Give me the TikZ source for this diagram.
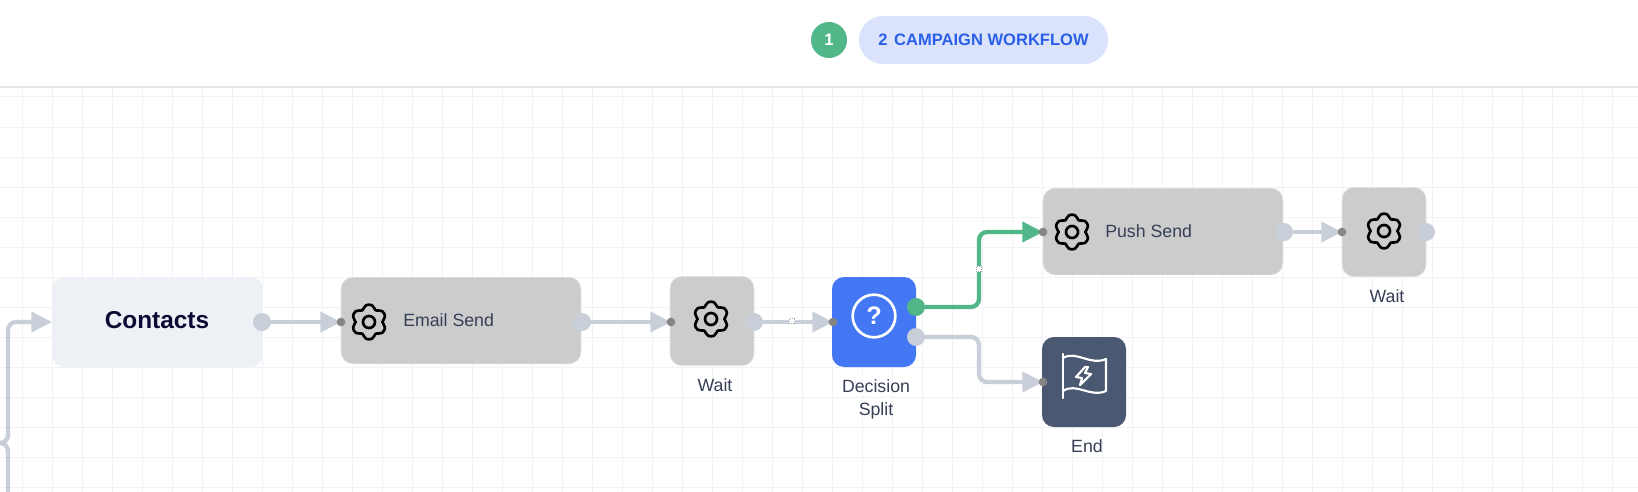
\documentclass[tikz,border=0pt]{standalone}
\usepackage{fontspec}
\setmainfont{Liberation Sans}
\usetikzlibrary{arrows.meta}
\pgfdeclarelayer{front}
\pgfsetlayers{main,front}
\definecolor{gridgray}{HTML}{F0F2F5}
\definecolor{headline}{HTML}{E4E6EA}
\definecolor{linkgray}{HTML}{C8CFD9}
\definecolor{linkgreen}{HTML}{52B788}
\definecolor{dotgray}{HTML}{858585}
\definecolor{boxgray}{HTML}{CCCCCC}
\definecolor{boxedge}{HTML}{E3E6EB}
\definecolor{contactbox}{HTML}{EDF0F4}
\definecolor{decisionblue}{HTML}{4477F4}
\definecolor{endslate}{HTML}{4B5872}
\definecolor{labelink}{HTML}{373F57}
\definecolor{pillblue}{HTML}{DAE3FB}
\definecolor{pillink}{HTML}{2A5FE8}
\definecolor{contactink}{HTML}{0A0A33}
\tikzset{
  task/.style={draw=boxedge, line width=0.5pt, fill=boxgray, rounded corners=9pt, minimum width=180pt, minimum height=65pt, inner sep=0pt},
  waitbox/.style={task, minimum width=63pt, minimum height=67pt},
  outport/.style={circle, fill=linkgray, minimum size=13.5pt, inner sep=0pt, outer sep=0pt},
  inport/.style={circle, fill=dotgray, minimum size=6.5pt, inner sep=0pt, outer sep=0pt},
  link/.style={line width=3.2pt, draw=linkgray, rounded corners=6pt, shorten >=-3.25pt, -{Triangle[length=15.5pt,width=15pt,fill=linkgray]}},
  yeslink/.style={link, draw=linkgreen, -{Triangle[length=15.5pt,width=15pt,fill=linkgreen]}},
  handle/.style={draw=gray!70, densely dotted, line width=0.4pt, fill=white, minimum size=4pt, inner sep=0pt},
  tasklabel/.style={font=\fontsize{13.3pt}{17pt}\selectfont, text=labelink, inner sep=0pt},
  gearline/.style={draw=black, line width=2pt, line join=round},
}
% zahnrad
\newcommand{\gear}[2]{
  \draw[gearline, shift={(#1,#2)}] plot[smooth cycle, samples at={0,10,...,350}, variable=\a]
    ({(15.8+2.0*cos(6*(\a-90))-0.4*cos(12*(\a-90)))*cos(\a)},{(15.8+2.0*cos(6*(\a-90))-0.4*cos(12*(\a-90)))*sin(\a)});
  \draw[gearline, shift={(#1,#2)}] (0,0) circle[radius=4.5pt];
}
\begin{document}
\begin{tikzpicture}[x=0.75pt, y=-0.75pt]
    \useasboundingbox (0,0) rectangle (1638,492);
    \fill[white] (0,0) rectangle (1638,492);
    % raster
    \foreach \gx in {22.5,52.5,...,1638} \draw[gridgray, line width=0.75pt] (\gx,87) -- (\gx,492);
    \foreach \gy in {97,127,...,492} \draw[gridgray, line width=0.75pt] (0,\gy) -- (1638,\gy);
    \draw[headline, line width=1.1pt] (0,87) -- (1638,87); % kopfzeile

    % kopf
    \node[circle, fill=linkgreen, minimum size=27pt, inner sep=0pt, text=white, font=\bfseries\fontsize{12.5pt}{14pt}\selectfont] (stepone) at (829,40) {1};
    \node[fill=pillblue, rounded corners=18pt, minimum width=186.75pt, minimum height=36pt, inner sep=0pt, text=pillink, font=\bfseries\fontsize{12.4pt}{14pt}\selectfont] (steptwo) at (983.5,40) {2\hspace{5pt}CAMPAIGN WORKFLOW};

    % kaesten
    \node[fill=contactbox, rounded corners=9pt, minimum width=158pt, minimum height=67.5pt, inner sep=0pt] (contacts) at (157.5,322) {};
    \node[task] (emailsend) at (461,320.5) {};
    \node[waitbox] (waitone) at (712,321) {};
    \node[fill=decisionblue, rounded corners=9pt, minimum width=63pt, minimum height=67.5pt, inner sep=0pt] (decision) at (874,322) {};
    \node[task] (pushsend) at (1163,231.5) {};
    \node[waitbox] (waittwo) at (1384,232) {};
    \node[fill=endslate, rounded corners=9pt, minimum width=63pt, minimum height=67.5pt, inner sep=0pt] (finish) at (1084,382) {};

    % texte
    \node[font=\bfseries\fontsize{18.3pt}{20pt}\selectfont, text=contactink, inner sep=0pt] (contactstext) at (157,320) {Contacts};
    \node[tasklabel, anchor=west] (emailtext) at (403,320) {Email Send};
    \node[tasklabel, anchor=west] (pushtext) at (1105,231) {Push Send};
    \node[tasklabel] (waitonetext) at (715,385) {Wait};
    \node[tasklabel, align=center] (decisiontext) at (876,399.5) {Decision\\[0.5pt]Split};
    \node[tasklabel] (endtext) at (1087,446.5) {End};
    \node[tasklabel] (waittwotext) at (1387,296) {Wait};

    % ports
    \begin{pgfonlayer}{front}
    \node[outport] (contactsout) at (262,322) {};
    \node[inport] (emailin) at (341,322) {};
    \node[outport] (emailout) at (582,322) {};
    \node[inport] (waitonein) at (671,322) {};
    \node[outport] (waitoneout) at (754,322) {};
    \node[inport] (decisionin) at (833,322) {};
    \node[outport, fill=linkgreen] (decisionyes) at (916,307) {};
    \node[outport] (decisionno) at (916,337) {};
    \node[inport] (pushin) at (1043,232) {};
    \node[outport] (pushout) at (1284,232) {};
    \node[inport] (waittwoin) at (1342,232) {};
    \node[outport] (waittwoout) at (1426,232) {};
    \node[inport] (finishin) at (1043,382) {};
    \node[handle] (yeshandle) at (979,269) {};
    \node[handle] (waithandle) at (792,321) {};
    \end{pgfonlayer}
    \coordinate (nobend) at (979,360);
    \coordinate (loopbend) at (8,400);
    \coordinate (loopstart) at (8,492);
    \coordinate (loopjoint) at (0,443);
    \coordinate (contactsin) at (52,322);

    % verbindungen
    \draw[link] (contactsout) -- (emailin);
    \draw[link] (emailout) -- (waitonein);
    \draw[link] (waitoneout) -- (decisionin);
    \draw[link] (pushout) -- (waittwoin);
    \draw[link] (decisionno) -| (nobend) |- (finishin);
    \draw[yeslink] (decisionyes) -| (yeshandle) |- (pushin);
    \draw[link, shorten >=0pt] (loopbend) |- (contactsin);
    \draw[line width=3.2pt, linkgray, rounded corners=6pt] (loopbend) |- (loopjoint);
    \draw[line width=3.2pt, linkgray, rounded corners=6pt] (loopstart) |- (loopjoint);

    % icons
    \gear{369}{322}
    \gear{711}{319}
    \gear{1072}{232}
    \gear{1384}{231}
    \draw[white, line width=2pt] (874,316) circle[radius=16pt]; % fragezeichen
    \node[text=white, font=\bfseries\fontsize{19pt}{20pt}\selectfont, inner sep=0pt] (questionmark) at (874,316) {?};
    % flagge
    \draw[white, line width=1.6pt, line cap=round] (1063,354) -- (1063,398);
    \draw[white, line width=1.6pt, line join=round] (1063,358) .. controls (1076,350) and (1090,366) .. (1106,359) -- (1106,391) .. controls (1090,398) and (1076,382) .. (1063,391);
    \draw[white, line width=1.6pt, line join=round] (1085,367) -- (1076,377) -- (1082,378) -- (1080,385) -- (1091,374) -- (1085,373) -- (1088,367) -- cycle;
\end{tikzpicture}
\end{document}
